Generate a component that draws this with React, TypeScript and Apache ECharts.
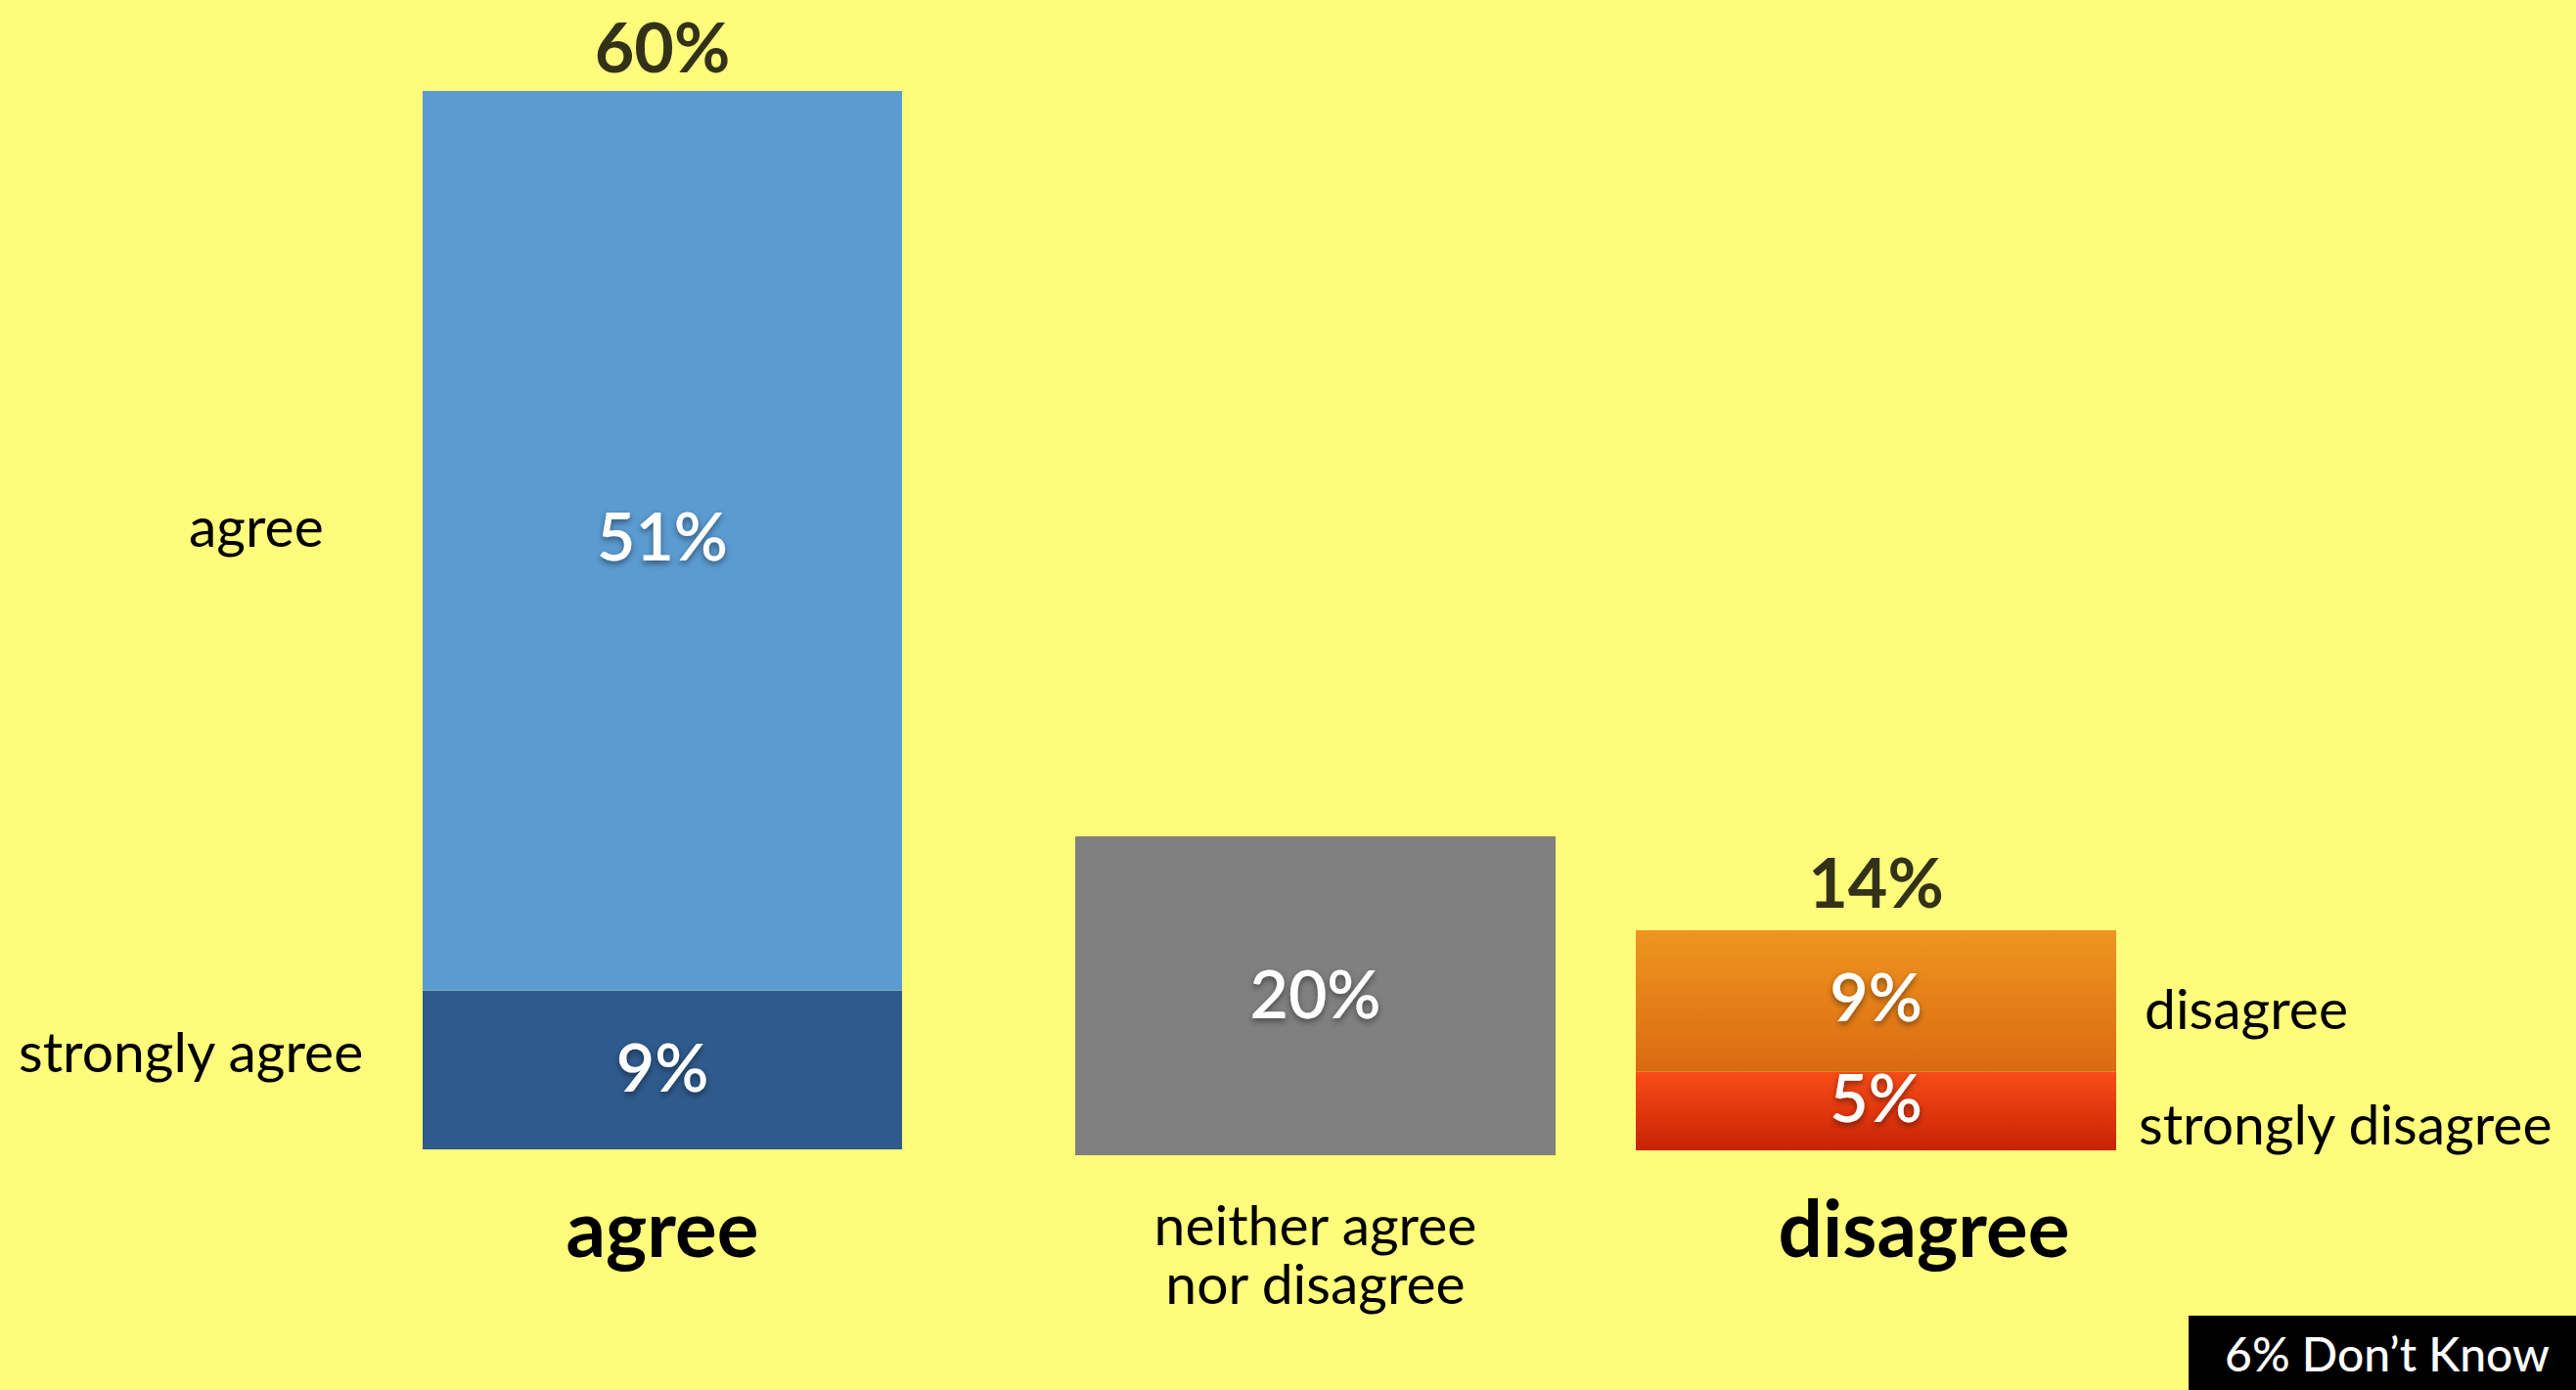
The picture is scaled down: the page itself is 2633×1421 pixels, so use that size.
import React, { useEffect, useRef } from "react";
import * as echarts from "echarts";

const W = 2633;
const H = 1421;

// ---- data ----
const categories = ["agree", "neither agree\nnor disagree", "disagree"];
const agreeNames = ["strongly agree", "agree"];
const agreeValues = [9, 51];
const neutralNames = ["neither agree nor disagree"];
const neutralValues = [20];
const disagreeNames = ["strongly disagree", "disagree"];
const disagreeValues = [5, 9];
const totals = [60, 14]; // agree total, disagree total
const dontKnow = 6;

// ---- styles ----
const BG = "#FFFB7B";
const FONT = "Lato";
const LIGHT_BLUE = "#5B9BD1";
const DARK_BLUE = "#2E5A8C";
const GRAY = "#7F807F";
const orangeGrad = new echarts.graphic.LinearGradient(0, 0, 0, 1, [
  { offset: 0, color: "#EF961F" },
  { offset: 1, color: "#DB6A12" },
]);
const redGrad = new echarts.graphic.LinearGradient(0, 0, 0, 1, [
  { offset: 0, color: "#F94C17" },
  { offset: 1, color: "#C82205" },
]);

const insideLabel = (offset: number[] = [0, 0]) => ({
  show: true,
  position: "inside",
  formatter: "{c}%",
  color: "#ffffff",
  fontFamily: FONT,
  fontSize: 68,
  fontWeight: 600,
  offset,
  textShadowColor: "rgba(0,0,0,0.45)",
  textShadowBlur: 6,
  textShadowOffsetY: 3,
});

const topLabel = (distance: number) => ({
  show: true,
  position: "top",
  distance,
  formatter: "{c}%",
  color: "#000",
  fontFamily: FONT,
  fontSize: 70,
  lineHeight: 64,
  fontWeight: "bold",
});

const catLabelBold = {
  fontFamily: FONT,
  fontSize: 80,
  fontWeight: "bold",
  color: "#000",
  lineHeight: 80,
};

const sideText = (text: string, x: number, y: number) => ({
  type: "text",
  x,
  y,
  silent: true,
  style: {
    text,
    fill: "#000",
    fontFamily: FONT,
    fontSize: 57,
    textAlign: "left",
    textVerticalAlign: "middle",
  },
});

export default function App() {
  const ref = useRef<HTMLDivElement>(null);

  useEffect(() => {
    if (!ref.current) return;
    const chart = echarts.init(ref.current, null, {
      renderer: "svg",
      width: W,
      height: H,
    });

    const option: any = {
      animation: false,
      backgroundColor: BG,
      grid: [
        { left: 432, top: 93, width: 490, height: 1082 },
        { left: 1099, top: 855, width: 491, height: 326 },
        { left: 1672, top: 951, width: 491, height: 225 },
      ],
      xAxis: [
        {
          gridIndex: 0,
          type: "category",
          data: [categories[0]],
          axisLine: { show: false },
          axisTick: { show: false },
          axisLabel: { ...catLabelBold, margin: 39 },
        },
        {
          gridIndex: 1,
          type: "category",
          data: [categories[1]],
          axisLine: { show: false },
          axisTick: { show: false },
          axisLabel: {
            fontFamily: FONT,
            fontSize: 57,
            color: "#000",
            lineHeight: 60,
            margin: 40,
          },
        },
        {
          gridIndex: 2,
          type: "category",
          data: [categories[2]],
          axisLine: { show: false },
          axisTick: { show: false },
          axisLabel: { ...catLabelBold, margin: 38, padding: [0, 0, 0, 98] },
        },
      ],
      yAxis: [
        { gridIndex: 0, type: "value", min: 0, max: totals[0], show: false, splitLine: { show: false } },
        { gridIndex: 1, type: "value", min: 0, max: neutralValues[0], show: false, splitLine: { show: false } },
        { gridIndex: 2, type: "value", min: 0, max: totals[1], show: false, splitLine: { show: false } },
      ],
      series: [
        {
          name: agreeNames[0],
          type: "bar",
          stack: "agree",
          xAxisIndex: 0,
          yAxisIndex: 0,
          barWidth: "100%",
          data: [agreeValues[0]],
          itemStyle: { color: DARK_BLUE },
          label: insideLabel([0, -4]),
        },
        {
          name: agreeNames[1],
          type: "bar",
          stack: "agree",
          xAxisIndex: 0,
          yAxisIndex: 0,
          barWidth: "100%",
          data: [agreeValues[1]],
          itemStyle: { color: LIGHT_BLUE },
          label: insideLabel([0, -6]),
        },
        {
          name: "agree total",
          type: "scatter",
          xAxisIndex: 0,
          yAxisIndex: 0,
          symbolSize: 1,
          itemStyle: { color: "transparent" },
          data: [totals[0]],
          label: topLabel(14),
          silent: true,
        },
        {
          name: neutralNames[0],
          type: "bar",
          xAxisIndex: 1,
          yAxisIndex: 1,
          barWidth: "100%",
          data: [neutralValues[0]],
          itemStyle: { color: GRAY },
          label: insideLabel([0, -4]),
        },
        {
          name: disagreeNames[0],
          type: "bar",
          stack: "disagree",
          xAxisIndex: 2,
          yAxisIndex: 2,
          barWidth: "100%",
          data: [disagreeValues[0]],
          itemStyle: { color: redGrad },
          label: insideLabel([0, -15]),
        },
        {
          name: disagreeNames[1],
          type: "bar",
          stack: "disagree",
          xAxisIndex: 2,
          yAxisIndex: 2,
          barWidth: "100%",
          data: [disagreeValues[1]],
          itemStyle: { color: orangeGrad },
          label: insideLabel([0, -6]),
        },
        {
          name: "disagree total",
          type: "scatter",
          xAxisIndex: 2,
          yAxisIndex: 2,
          symbolSize: 1,
          itemStyle: { color: "transparent" },
          data: [totals[1]],
          label: topLabel(18),
          silent: true,
        },
      ],
      graphic: [
        sideText(agreeNames[1], 193, 537),
        sideText(agreeNames[0], 19, 1074),
        sideText(disagreeNames[1], 2192, 1030),
        sideText(disagreeNames[0], 2186, 1148),
        {
          type: "rect",
          shape: { x: 2237, y: 1345, width: W - 2237, height: H - 1345 },
          style: { fill: "#000" },
          silent: true,
        },
        {
          type: "text",
          x: 2440,
          y: 1383,
          silent: true,
          style: {
            text: `${dontKnow}% Don\u2019t Know`,
            fill: "#fff",
            fontFamily: FONT,
            fontSize: 48,
            fontWeight: 500,
            textAlign: "center",
            textVerticalAlign: "middle",
          },
        },
      ],
    };

    chart.setOption(option);
    return () => chart.dispose();
  }, []);

  return (
    <div
      ref={ref}
      style={{ position: "fixed", left: 0, top: 0, width: W, height: H }}
    />
  );
}
